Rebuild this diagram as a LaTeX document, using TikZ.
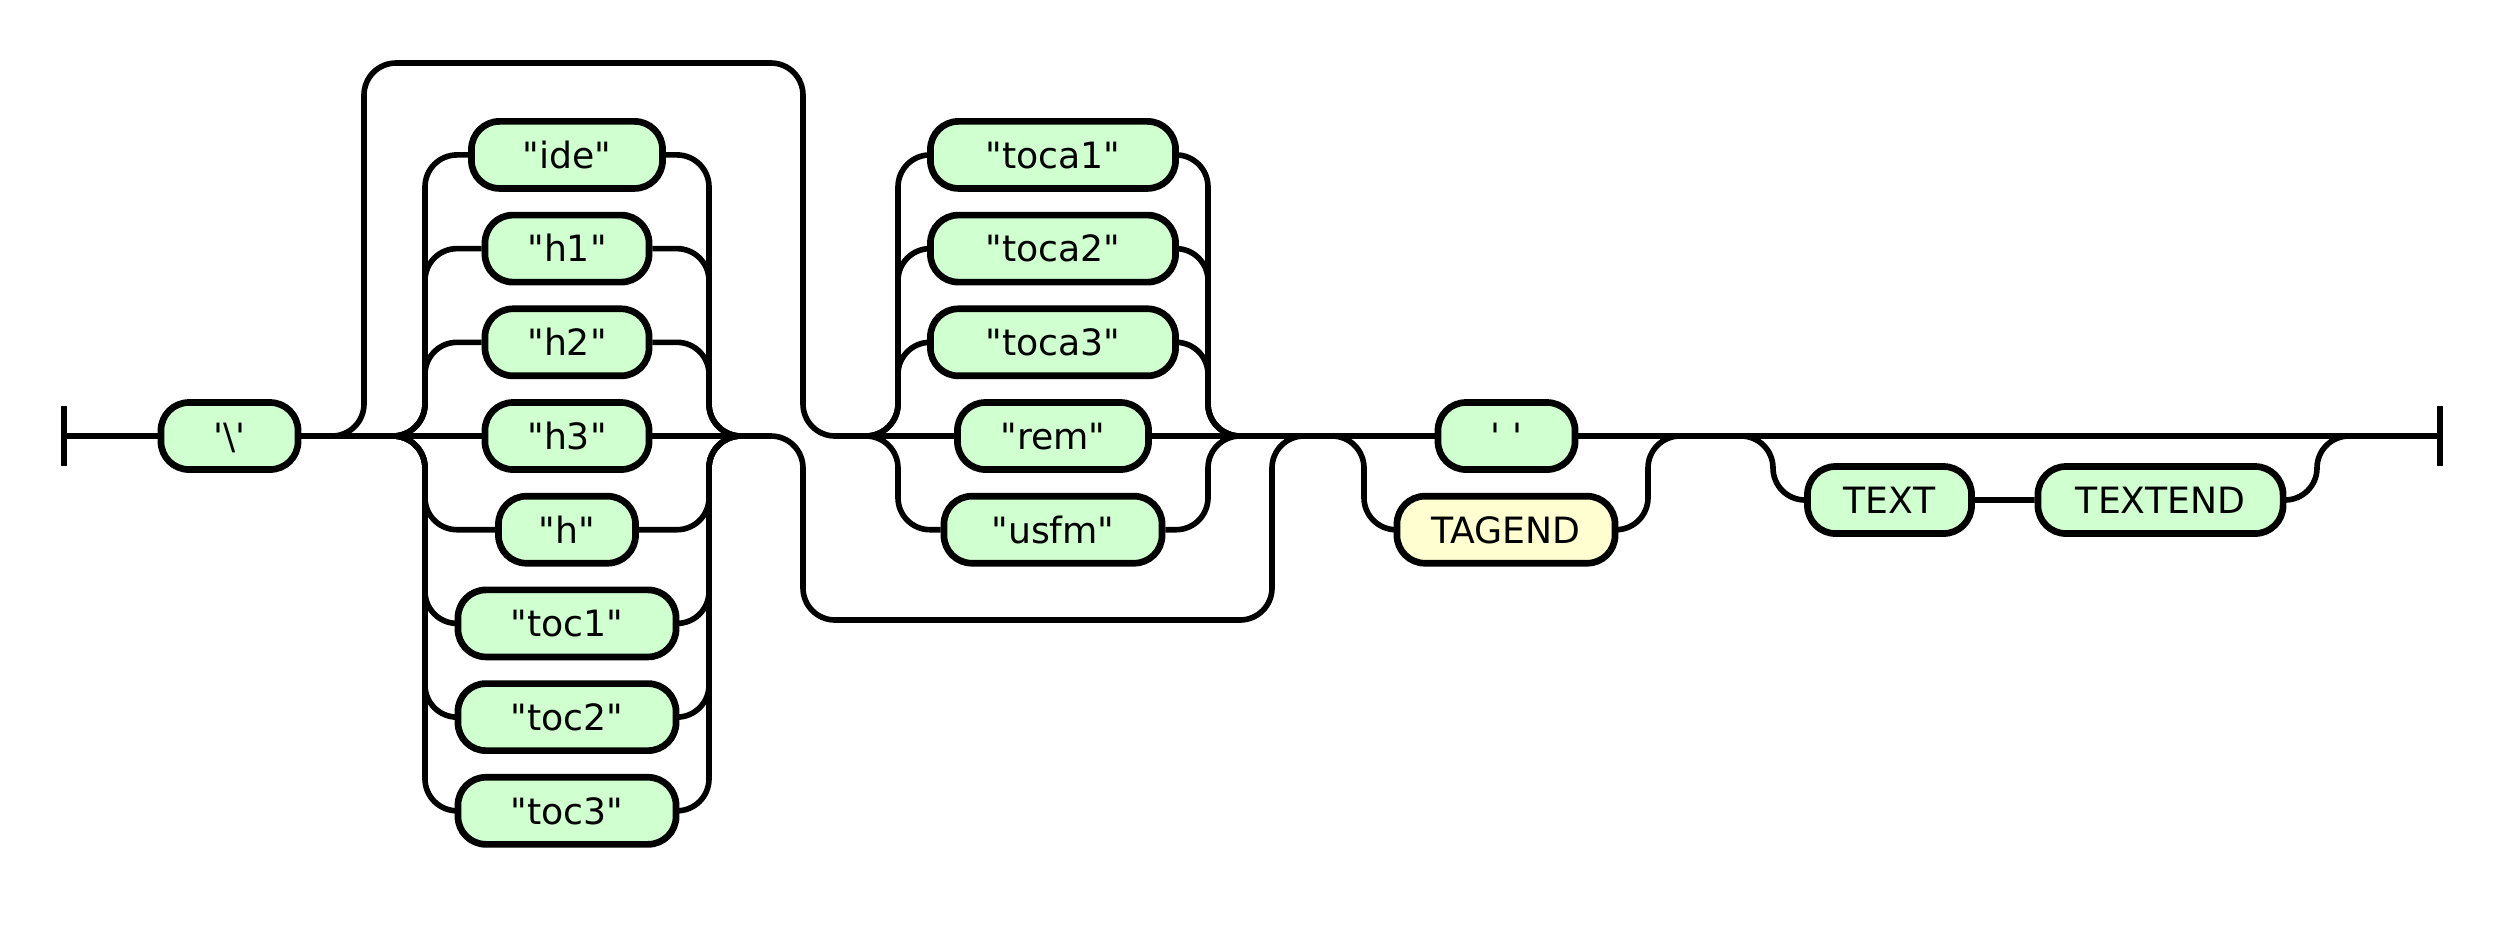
\documentclass[tikz,border=0pt]{standalone}
\usepackage{fontspec}
\newfontfamily\railfont{DejaVu Sans}
\usepackage{tikz}
\usetikzlibrary{calc}
\definecolor{termgreen}{RGB}{208,255,208}
\definecolor{ntyellow}{RGB}{254,254,208}

\begin{document}
\begin{tikzpicture}[x=0.01cm, y=-0.01cm,
    rail/.style={line width=1.6pt, rounded corners=0.32cm},
    term/.style={draw, line width=1.9pt, fill=termgreen, rounded corners=0.28cm,
        minimum height=0.67cm, inner xsep=0pt, text height=7.6pt, text depth=0pt,
        font=\railfont\fontsize{10.3}{12}\selectfont},
    nonterm/.style={term, fill=ntyellow}]

    \useasboundingbox (0,0) rectangle (2502,938);

    % Start and end of the rail
    \coordinate (start) at (64,436);
    \coordinate (finish) at (2440,436);
    \draw[line width=1.6pt] ($(start)+(0,-30)$) -- ($(start)+(0,30)$);
    \draw[line width=1.6pt] ($(finish)+(0,-30)$) -- ($(finish)+(0,30)$);

    % Leading backslash
    \node[term, minimum width=1.37cm] (bslash) at (229.5,436) {'\textbackslash'};

    % First choice: heading markers
    \node[term, minimum width=1.91cm] (ide) at (567,154.9) {"ide"};
    \node[term, minimum width=1.64cm] (hone) at (567,248.6) {"h1"};
    \node[term, minimum width=1.64cm] (htwo) at (567,342.3) {"h2"};
    \node[term, minimum width=1.64cm] (hthree) at (567,436) {"h3"};
    \node[term, minimum width=1.37cm] (hh) at (567,529.7) {"h"};
    \node[term, minimum width=2.18cm] (tocone) at (567,623.4) {"toc1"};
    \node[term, minimum width=2.18cm] (toctwo) at (567,717.1) {"toc2"};
    \node[term, minimum width=2.18cm] (tocthree) at (567,810.8) {"toc3"};

    % Second choice: toca, rem, usfm
    \node[term, minimum width=2.45cm] (tocaone) at (1053,154.9) {"toca1"};
    \node[term, minimum width=2.45cm] (tocatwo) at (1053,248.6) {"toca2"};
    \node[term, minimum width=2.45cm] (tocathree) at (1053,342.3) {"toca3"};
    \node[term, minimum width=1.91cm] (rem) at (1053,436) {"rem"};
    \node[term, minimum width=2.18cm] (usfm) at (1053,529.7) {"usfm"};

    % Space or tag end
    \node[term, minimum width=1.37cm] (space) at (1506.5,436) {' '};
    \node[nonterm, minimum width=2.18cm] (tagend) at (1506,529.7) {TAGEND};

    % Optional text
    \node[term, minimum width=1.64cm] (txt) at (1889.5,500) {TEXT};
    \node[term, minimum width=2.45cm] (txtend) at (2160.5,500) {TEXTEND};

    % Branch and join points
    \coordinate (splitA) at (393,436);
    \coordinate (colAl) at (425,436);
    \coordinate (colAr) at (709,436);
    \coordinate (joinA) at (741,436);
    \coordinate (overL) at (364,63);
    \coordinate (overR) at (803,63);
    \coordinate (underL) at (803,620);
    \coordinate (underR) at (1272,620);
    \coordinate (splitB) at (866,436);
    \coordinate (colBl) at (898,436);
    \coordinate (colBr) at (1208,436);
    \coordinate (joinB) at (1240,436);
    \coordinate (splitC) at (1332,436);
    \coordinate (colCl) at (1364,436);
    \coordinate (colCr) at (1648,436);
    \coordinate (joinC) at (1680,436);
    \coordinate (splitD) at (1741,436);
    \coordinate (colDl) at (1773,436);
    \coordinate (colDr) at (2317,436);
    \coordinate (joinD) at (2349,436);

    % Main rail pieces
    \draw[rail] (start) -- (bslash) -- (splitA);
    \draw[rail] (joinB) -- (splitC);
    \draw[rail] (joinC) -- (finish);

    % Over the first choice, into the second
    \draw[rail] (bslash.east) -| (overL) -- (overR) |- (splitB);
    % Out of the first choice, under the second
    \draw[rail] (joinA) -| (underL) -- (underR) |- (splitC);

    % First choice branches
    \draw[rail] (splitA) -| (colAl |- ide) -- (ide) -| (colAr) -- (joinA);
    \draw[rail] (splitA) -| (colAl |- hone) -- (hone) -| (colAr) -- (joinA);
    \draw[rail] (splitA) -| (colAl |- htwo) -- (htwo) -| (colAr) -- (joinA);
    \draw[rail] (splitA) -- (hthree) -- (joinA);
    \draw[rail] (splitA) -| (colAl |- hh) -- (hh) -| (colAr) -- (joinA);
    \draw[rail] (splitA) -| (colAl |- tocone) -- (tocone) -| (colAr) -- (joinA);
    \draw[rail] (splitA) -| (colAl |- toctwo) -- (toctwo) -| (colAr) -- (joinA);
    \draw[rail] (splitA) -| (colAl |- tocthree) -- (tocthree) -| (colAr) -- (joinA);

    % Second choice branches
    \draw[rail] (splitB) -| (colBl |- tocaone) -- (tocaone) -| (colBr) -- (joinB);
    \draw[rail] (splitB) -| (colBl |- tocatwo) -- (tocatwo) -| (colBr) -- (joinB);
    \draw[rail] (splitB) -| (colBl |- tocathree) -- (tocathree) -| (colBr) -- (joinB);
    \draw[rail] (splitB) -- (rem) -- (joinB);
    \draw[rail] (splitB) -| (colBl |- usfm) -- (usfm) -| (colBr) -- (joinB);

    % Space or TAGEND
    \draw[rail] (splitC) -- (space) -- (joinC);
    \draw[rail] (splitC) -| (colCl |- tagend) -- (tagend) -| (colCr) -- (joinC);

    % Optional TEXT TEXTEND
    \draw[rail] (splitD) -| (colDl |- txt) -- (txt) -- (txtend) -| (colDr) -- (joinD);

\end{tikzpicture}
\end{document}
